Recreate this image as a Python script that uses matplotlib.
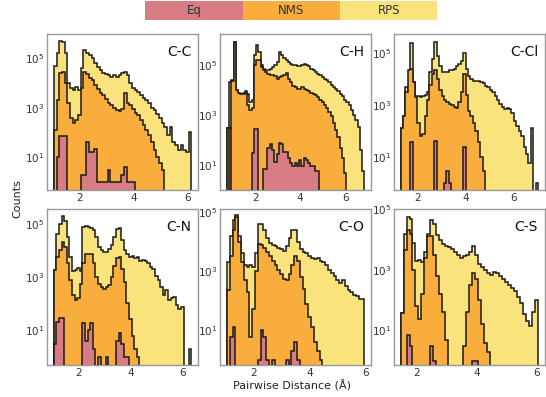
import numpy as np
import matplotlib
matplotlib.use('Agg')
import matplotlib.pyplot as plt

# histogram bin width (Angstrom)
bin_width = 0.1

# ---- C-C ----
cc_start = 1.05
cc_rps = [5.0e4, 1.6e5, 5.0e5, 4.5e5, 1.6e5, 1.0e4, 6300, 5000, 7100, 5000,
          4.0e4, 2.2e5, 1.6e5, 1.3e5, 1.0e5, 6.3e4, 4.5e4, 3.2e4, 2.5e4, 2.2e4,
          2.0e4, 1.8e4, 2.0e4, 1.8e4, 2.0e4, 2.5e4, 2.8e4, 2.0e4, 1.0e4, 6300,
          5000, 4500, 3200, 2500, 2000, 1600, 1000, 790, 560, 400,
          250, 160, 79, 160, 40, 32, 20, 32, 20, 16, 100]
cc_nms = [130, 2000, 2.5e4, 2.8e4, 1.0e4, 1600, 400, 250, 320, 500,
          6300, 2.8e4, 2.2e4, 1.6e4, 1.3e4, 7900, 5600, 4000, 3200, 2200,
          1600, 1300, 1000, 790, 710, 890, 4000, 1600, 1300, 890,
          630, 500, 320, 200, 130, 79, 40, 20, 10, 6,
          3, 0, 0, 0, 0, 0, 0, 0, 0, 0, 0]
cc_eq = [0, 10, 70, 70, 70, 0, 0, 0, 0, 0,
         2, 2, 40, 16, 16, 22, 1, 1, 1, 1,
         3, 1, 1, 1, 1, 2, 4, 1, 1, 1,
         0, 0, 0, 0, 0, 0, 0, 0, 0, 0,
         0, 0, 0, 0, 0, 0, 0, 0, 0, 0, 0]

# ---- C-H ----
ch_start = 0.75
ch_rps = [320, 2.0e4, 2.5e4, 8.3e5, 1.0e4, 7900, 7100, 7900, 8900, 7100,
          3200, 4000, 2.5e5, 6.3e5, 3.2e5, 1.0e5, 7.1e4, 6.3e4, 6.3e4, 7.1e4,
          7.9e4, 1.0e5, 1.3e5, 3.2e5, 2.5e5, 1.8e5, 1.6e5, 1.3e5, 1.1e5, 1.0e5,
          1.0e5, 8.9e4, 8.9e4, 1.0e5, 1.1e5, 1.0e5, 8.9e4, 7.1e4, 6.3e4, 5.0e4,
          4.5e4, 4.0e4, 3.2e4, 2.8e4, 2.5e4, 2.0e4, 1.6e4, 1.3e4, 1.1e4, 8900,
          7100, 5600, 4000, 3200, 2500, 1600, 1000, 630, 350, 40, 6]
ch_nms = [320, 320, 2.2e4, 8.3e5, 1.0e4, 7900, 7100, 7100, 7900, 2500,
          1600, 2000, 1.0e5, 1.6e5, 1.6e5, 7.9e4, 6.3e4, 5.0e4, 4.2e4, 4.0e4,
          4.0e4, 3.5e4, 2.8e4, 3.2e4, 3.5e4, 4.0e4, 4.7e4, 2.8e4, 2.0e4, 1.4e4,
          1.3e4, 1.1e4, 1.1e4, 1.3e4, 1.1e4, 1.0e4, 8900, 7900, 7100, 6300,
          5200, 4200, 3200, 2500, 2000, 1400, 890, 500, 250, 130,
          50, 20, 5, 0, 0, 0, 0, 0, 0, 0, 0]
ch_eq = [0, 320, 0, 0, 0, 0, 0, 0, 0, 0,
         0, 32, 280, 280, 0, 0, 7, 7, 50, 71,
         40, 14, 28, 79, 71, 35, 35, 20, 13, 10,
         13, 10, 16, 10, 20, 16, 13, 10, 10, 6,
         6, 0, 0, 0, 0, 0, 0, 0, 0, 0,
         0, 0, 0, 0, 0, 0, 0, 0, 0, 0, 0]

# ---- C-Cl ----
ccl_start = 1.3
ccl_rps = [130, 400, 5000, 4000, 2.4e5, 7900, 2200, 2200, 2000, 2200,
           2500, 3200, 2.0e4, 6.3e4, 2.8e5, 7.9e4, 3.2e4, 2.0e4, 2.0e4, 2.0e4,
           2.2e4, 2.2e4, 2.5e4, 3.2e4, 4.0e4, 5.0e4, 1.0e5, 2.5e4, 1.4e4, 1.0e4,
           8900, 8900, 8900, 7900, 7100, 5600, 5000, 4000, 3200, 2200,
           1600, 1100, 890, 710, 790, 710, 500, 250, 160, 100,
           63, 25, 13, 6, 130, 0, 1]
ccl_nms = [130, 400, 3200, 2.2e4, 2.5e4, 7900, 2000, 200, 63, 79,
           400, 1600, 6300, 1.6e4, 2.3e4, 1.0e4, 4000, 2200, 1600, 1300,
           1100, 1000, 890, 790, 1300, 3200, 1.6e4, 2500, 630, 400,
           200, 100, 40, 10, 3, 0, 0, 0, 0, 0,
           0, 0, 0, 0, 0, 0, 0, 0, 0, 0,
           0, 0, 0, 0, 0, 0, 0]
ccl_eq = [0, 0, 0, 0, 37, 0, 0, 0, 0, 0,
          0, 0, 0, 0, 43, 0, 0, 0, 1, 3,
          1, 0, 0, 0, 0, 0, 24, 0, 0, 0,
          0, 0, 0, 0, 0, 0, 0, 0, 0, 0,
          0, 0, 0, 0, 0, 0, 0, 0, 0, 0,
          0, 0, 0, 0, 0, 0, 0]

# ---- C-N ----
cn_start = 1.05
cn_rps = [1800, 4.0e4, 1.0e5, 2.0e5, 1.3e5, 3.2e4, 5600, 1600, 1800, 2200,
          1600, 7.4e4, 7.9e4, 7.4e4, 7.1e4, 5.6e4, 3.2e4, 1.3e4, 1.0e4, 8900,
          8500, 1.1e4, 1.6e4, 3.2e4, 6.3e4, 7.1e4, 2.5e4, 1.0e4, 7400, 5600,
          6300, 5000, 5600, 4000, 4200, 4000, 3200, 2300, 2000, 1100,
          740, 400, 200, 320, 130, 160, 180, 89, 63, 71,
          0, 0, 2]
cn_nms = [1800, 5600, 1.0e4, 2.0e4, 1.3e4, 3200, 790, 200, 130, 160,
          560, 3200, 7400, 7400, 7100, 3200, 1000, 560, 400, 360,
          400, 500, 1000, 2500, 5000, 5600, 2000, 630, 100, 25,
          6, 2, 1, 0, 0, 0, 0, 0, 0, 0,
          0, 0, 0, 0, 0, 0, 0, 0, 0, 0,
          0, 0, 0]
cn_eq = [3, 20, 28, 28, 0, 0, 0, 0, 0, 0,
         0, 18, 4, 10, 18, 2, 0, 1, 0, 0,
         1, 0, 0, 0, 4, 8, 3, 1, 1, 0,
         0, 0, 0, 0, 0, 0, 0, 0, 0, 0,
         0, 0, 0, 0, 0, 0, 0, 0, 0, 0,
         0, 0, 0]

# ---- C-O ----
co_start = 1.05
co_rps = [2000, 1.6e4, 5.6e4, 7.8e4, 1.6e4, 4000, 1600, 1400, 1600, 1400,
          4000, 4.0e4, 4.0e4, 2.5e4, 1.3e4, 8900, 7900, 7100, 6300, 5600,
          5000, 7100, 1.3e4, 2.4e4, 2.4e4, 1.0e4, 5600, 4500, 4000, 3200,
          2800, 2500, 2800, 2200, 2000, 1600, 1100, 890, 710, 500,
          400, 500, 320, 220, 200, 160, 140, 110, 110]
co_nms = [220, 3200, 2.5e4, 6.8e4, 1.0e4, 2000, 500, 200, 6, 50,
          1000, 8500, 7900, 6300, 4500, 3200, 2200, 1600, 1100, 790,
          560, 500, 790, 1600, 3200, 2200, 630, 250, 79, 28,
          13, 4, 2, 1, 0, 0, 0, 0, 0, 0,
          0, 0, 0, 0, 0, 0, 0, 0, 0]
co_eq = [0, 6, 13, 0, 0, 0, 0, 0, 0, 0,
         0, 1, 10, 6, 1, 0, 1, 0, 0, 0,
         0, 1, 0, 2, 4, 1, 0, 0, 0, 0,
         0, 0, 0, 0, 0, 0, 0, 0, 0, 0,
         0, 0, 0, 0, 0, 0, 0, 0, 0]

# ---- C-S ----
cs_start = 1.45
cs_rps = [37, 1.6e4, 5.8e4, 5.0e4, 7900, 2000, 2200, 1800, 4000, 1.6e4,
          4.5e4, 3.2e4, 1.4e4, 1.0e4, 7100, 6300, 5600, 5000, 4000, 3200,
          2500, 2800, 3200, 4000, 6300, 3200, 1600, 1300, 1000, 790,
          710, 890, 790, 630, 500, 400, 320, 250, 200, 130,
          79, 35, 20, 14, 40, 100]
cs_nms = [37, 4600, 2.1e4, 1.6e4, 1000, 63, 25, 160, 2500, 1.3e4,
          1.3e4, 3200, 630, 160, 40, 5, 0, 0, 0, 0,
          0, 3, 40, 320, 790, 500, 100, 16, 4, 2,
          0, 0, 0, 0, 0, 0, 0, 0, 0, 0,
          0, 0, 0, 0, 0, 0]
cs_eq = [0, 0, 7, 3, 0, 0, 0, 0, 0, 0,
         3, 1, 0, 0, 0, 0, 0, 0, 0, 0,
         0, 0, 0, 0, 1, 1, 0, 0, 0, 0,
         0, 0, 0, 0, 0, 0, 0, 0, 0, 0,
         0, 0, 0, 0, 0, 0]

labels = ['Eq', 'NMS', 'RPS']
colors = ['#d87c84', '#f8ad3c', '#fae37c']

panels = [
    ('C-C', cc_start, cc_rps, cc_nms, cc_eq, (0.47, 9.3e5)),
    ('C-H', ch_start, ch_rps, ch_nms, ch_eq, (1.05, 1.66e6)),
    ('C-Cl', ccl_start, ccl_rps, ccl_nms, ccl_eq, (0.54, 5.5e5)),
    ('C-N', cn_start, cn_rps, cn_nms, cn_eq, (0.49, 3.6e5)),
    ('C-O', co_start, co_rps, co_nms, co_eq, (0.66, 1.3e5)),
    ('C-S', cs_start, cs_rps, cs_nms, cs_eq, (0.74, 1.05e5)),
]


def draw_hist(ax, start, counts, color, z):
    counts = np.asarray(counts, dtype=float)
    edges = start + bin_width * np.arange(len(counts) + 1)
    floor = 0.05
    ax.stairs(np.where(counts > 0, counts, floor), edges, baseline=floor,
              fill=True, facecolor=color, edgecolor='#1a1a1a',
              linewidth=1.1, zorder=z)


def run():
    fig = plt.figure(figsize=(5.46, 3.97), dpi=100)
    lefts = [0.086, 0.403, 0.721]
    bottoms = [0.521, 0.081]
    for i, (name, start, rps, nms, eq, ylim) in enumerate(panels):
        ax = fig.add_axes([lefts[i % 3], bottoms[i // 3], 0.277, 0.393])
        ax.set_yscale('log')
        draw_hist(ax, start, rps, colors[2], 1)
        draw_hist(ax, start, nms, colors[1], 2)
        draw_hist(ax, start, eq, colors[0], 3)
        ax.margins(x=0.05)
        ax.set_ylim(*ylim)
        ax.set_xticks([2, 4, 6])
        ax.set_yticks([1e1, 1e3, 1e5])
        ax.minorticks_off()
        ax.tick_params(length=0, pad=2, labelsize=7.5, colors='#333333')
        for s in ax.spines.values():
            s.set_color('#999999')
            s.set_linewidth(1.0)
        ax.text(0.955, 0.93, name, transform=ax.transAxes, ha='right',
                va='top', fontsize=10, color='#111111', zorder=5)

    # legend bar on top
    lax = fig.add_axes([0.266, 0.950, 0.535, 0.048])
    lax.barh(0, [1, 1, 1], left=[0, 1, 2], height=1, color=colors)
    for k, lab in enumerate(labels):
        lax.text(k + 0.5, 0, lab, ha='center', va='center', fontsize=8.5,
                 color='#333333')
    lax.set_xlim(0, 3)
    lax.set_ylim(-0.5, 0.5)
    lax.axis('off')

    fig.text(0.031, 0.5, 'Counts', rotation=90, ha='center', va='center',
             fontsize=8, color='#222222')
    fig.text(0.535, 0.028, 'Pairwise Distance (\u00c5)', ha='center',
             va='center', fontsize=8, color='#222222')
    fig.savefig('out.png', dpi=100)


if __name__ == '__main__':
    run()
